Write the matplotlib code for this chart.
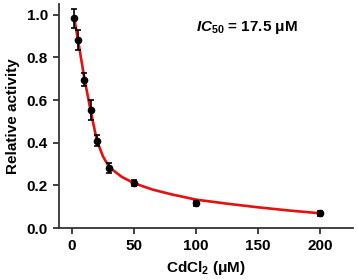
import matplotlib
matplotlib.use('Agg')
import matplotlib.pyplot as plt

plt.rcParams['font.family'] = ['Liberation Sans', 'DejaVu Sans']
plt.rcParams['font.weight'] = 'bold'
plt.rcParams['mathtext.fontset'] = 'custom'
plt.rcParams['mathtext.rm'] = 'Liberation Sans:bold'
plt.rcParams['mathtext.it'] = 'Liberation Sans:italic:bold'
plt.rcParams['mathtext.bf'] = 'Liberation Sans:bold'

# measured points (CdCl2 concentration in uM)
conc = [2, 5, 10, 15, 20, 30, 50, 100, 200]
activity = [0.983, 0.88, 0.695, 0.553, 0.41, 0.282, 0.212, 0.115, 0.068]
err = [0.045, 0.046, 0.03, 0.045, 0.024, 0.025, 0.013, 0.013, 0.013]

# fitted curve
curve_x = [2, 5, 10, 15, 20, 25, 30, 40, 50, 65, 80, 100, 125, 150, 175, 200]
curve_y = [0.975, 0.875, 0.70, 0.55, 0.41, 0.335, 0.285, 0.24, 0.21, 0.18, 0.158, 0.133, 0.114, 0.097, 0.082, 0.069]

x_ticks = [0, 50, 100, 150, 200]
y_ticks = [0.0, 0.2, 0.4, 0.6, 0.8, 1.0]

fig = plt.figure(figsize=(3.58, 2.8), dpi=100)
ax = fig.add_axes([59/358, 1 - 228/280, 294/358, 224/280])

ax.plot(curve_x, curve_y, color='#e8100f', lw=1.9, zorder=2)
ax.errorbar(conc, activity, yerr=err, fmt='o', color='black', ms=4.5,
            elinewidth=1.2, capsize=2.5, capthick=1.2, zorder=3)

ax.set_xlim(-10.5, 226.6)
ax.set_ylim(0, 1.05)
ax.set_xticks(x_ticks)
ax.set_yticks(y_ticks)
ax.set_yticklabels([f'{v:.1f}' for v in y_ticks])
ax.tick_params(labelsize=11, width=1.3, length=4.5, color='#333333')
for lab in ax.get_xticklabels() + ax.get_yticklabels():
    lab.set_fontweight('bold')

for side in ['top', 'right']:
    ax.spines[side].set_visible(False)
for side in ['left', 'bottom']:
    ax.spines[side].set_linewidth(1.3)
    ax.spines[side].set_color('#333333')

ax.set_ylabel('Relative activity', fontsize=11, fontweight='bold', labelpad=5)
ax.set_xlabel(r'CdCl$_2$ (μM)', fontsize=11, fontweight='bold', labelpad=4)
ax.text(100, 0.94, r'$IC_{50}$ = 17.5 μM', fontsize=11, fontweight='bold',
        va='center', ha='left')

fig.savefig('out.png', dpi=100)
